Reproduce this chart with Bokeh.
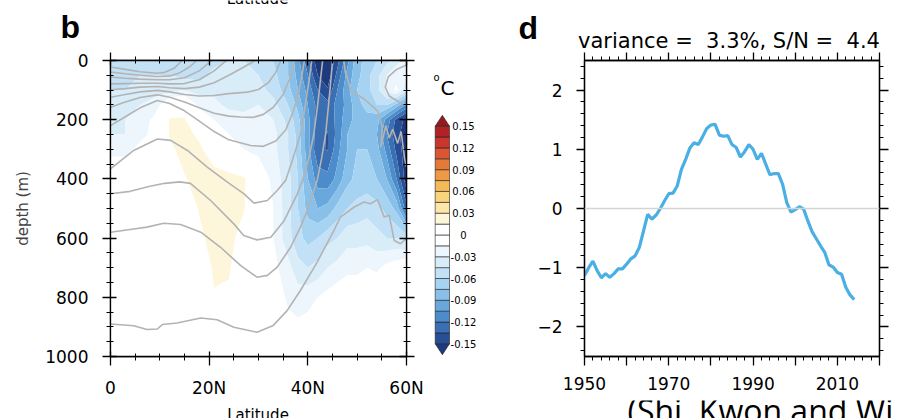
import numpy as np
from bokeh.plotting import figure
from bokeh.models import Range1d, LinearAxis, FixedTicker, Span, CustomLabelingPolicy
from bokeh.layouts import row, column
from bokeh.embed import file_html
from bokeh.resources import INLINE
from bokeh.core.properties import value

FONT = "DejaVu Sans"

# ---------------- panel b : anomaly section ----------------
lat = [0, 3, 6, 9, 12, 15, 18, 21, 24, 27, 30, 33, 36, 38, 40, 42, 44, 46, 48, 50, 52, 54, 56, 58, 60]
depth = [0, 50, 100, 150, 200, 250, 300, 400, 500, 600, 700, 800, 900, 1000]
anom = [
    [-0.05, -0.05, -0.05, -0.05, -0.055, -0.06, -0.06, -0.05, -0.045, -0.045, -0.05, -0.06, -0.075, -0.10, -0.13, -0.16, -0.17, -0.14, -0.11, -0.08, -0.07, -0.06, -0.05, -0.035, -0.025],
    [-0.05, -0.05, -0.045, -0.045, -0.045, -0.05, -0.05, -0.04, -0.04, -0.04, -0.045, -0.055, -0.075, -0.095, -0.12, -0.15, -0.16, -0.13, -0.10, -0.08, -0.065, -0.05, -0.03, -0.02, -0.03],
    [-0.045, -0.045, -0.04, -0.035, -0.035, -0.03, -0.035, -0.035, -0.04, -0.035, -0.04, -0.05, -0.07, -0.09, -0.11, -0.135, -0.148, -0.12, -0.095, -0.075, -0.065, -0.05, -0.025, -0.012, -0.04],
    [-0.04, -0.035, -0.03, -0.025, 0.005, 0.01, -0.02, -0.025, -0.035, -0.035, -0.03, -0.04, -0.06, -0.08, -0.105, -0.125, -0.13, -0.115, -0.10, -0.08, -0.07, -0.06, -0.06, -0.08, -0.11],
    [-0.035, -0.03, -0.025, -0.01, 0.016, 0.016, 0.0, -0.015, -0.02, -0.025, -0.02, -0.03, -0.05, -0.07, -0.10, -0.128, -0.132, -0.115, -0.095, -0.085, -0.08, -0.085, -0.11, -0.14, -0.155],
    [-0.03, -0.03, -0.02, -0.01, 0.016, 0.02, 0.012, -0.01, -0.015, -0.02, -0.02, -0.025, -0.045, -0.065, -0.10, -0.13, -0.136, -0.115, -0.09, -0.08, -0.08, -0.09, -0.12, -0.145, -0.16],
    [-0.02, -0.02, -0.01, 0.0, 0.012, 0.02, 0.018, 0.005, -0.01, -0.015, -0.02, -0.025, -0.045, -0.065, -0.10, -0.132, -0.136, -0.11, -0.09, -0.075, -0.075, -0.085, -0.11, -0.14, -0.16],
    [0.0, 0.0, 0.0, 0.0, 0.0, 0.014, 0.02, 0.022, 0.022, 0.017, 0.0, -0.02, -0.04, -0.06, -0.09, -0.112, -0.115, -0.10, -0.08, -0.07, -0.07, -0.075, -0.09, -0.12, -0.16],
    [0.0, 0.0, 0.0, 0.0, 0.0, 0.005, 0.016, 0.022, 0.022, 0.016, 0.0, -0.015, -0.04, -0.06, -0.08, -0.09, -0.085, -0.07, -0.06, -0.055, -0.05, -0.055, -0.065, -0.08, -0.13],
    [0.0, 0.0, 0.0, 0.0, 0.0, 0.0, 0.012, 0.02, 0.02, 0.008, -0.005, -0.015, -0.04, -0.055, -0.065, -0.06, -0.05, -0.045, -0.035, -0.035, -0.035, -0.04, -0.045, -0.045, -0.05],
    [0.0, 0.0, 0.0, 0.0, 0.0, 0.0, 0.005, 0.017, 0.017, 0.0, 0.0, -0.01, -0.025, -0.04, -0.045, -0.04, -0.03, -0.025, -0.02, -0.02, -0.015, -0.018, -0.01, -0.005, 0.0],
    [0.0, 0.0, 0.0, 0.0, 0.0, 0.0, 0.0, 0.014, 0.012, 0.0, 0.0, -0.005, -0.018, -0.022, -0.02, -0.015, -0.01, -0.005, 0.0, 0.0, 0.0, 0.0, 0.0, 0.0, 0.0],
    [0.0, 0.0, 0.0, 0.0, 0.0, 0.0, 0.0, 0.0, 0.0, 0.0, 0.0, 0.0, -0.01, -0.012, -0.01, 0.0, 0.0, 0.0, 0.0, 0.0, 0.0, 0.0, 0.0, 0.0, 0.0],
    [0.0] * 25,
]

# colour levels (shared by the field and the colour bar)
cb_levels = [-0.15, -0.135, -0.12, -0.105, -0.09, -0.075, -0.06, -0.045, -0.03, -0.015, 0.0,
             0.015, 0.03, 0.045, 0.06, 0.075, 0.09, 0.105, 0.12, 0.135, 0.15]
cb_colors = ["#274f98", "#3a6fb3", "#4c8cca", "#68a8dc", "#88c0ea", "#a6d3f2", "#c2e1f6", "#d9edf9", "#edf6fc", "#ffffff",
             "#ffffff", "#fef6da", "#fce7a8", "#f8d47c", "#f4ba58", "#ee9a44", "#e5793a", "#da5532", "#c8362c", "#b02226"]
low_color = "#1d3a7e"
high_color = "#951a1e"
cb_tick_values = [0.15, 0.12, 0.09, 0.06, 0.03, 0.0, -0.03, -0.06, -0.09, -0.12, -0.15]
cb_tick_labels = ["0.15", "0.12", "0.09", "0.06", "0.03", "0", "-0.03", "-0.06", "-0.09", "-0.12", "-0.15"]

# climatological isotherms (grey contours): latitude / depth of each line
iso_lat = [
    [0, 3, 6, 9.5, 11, 13, 14.5],
    [0, 3, 6, 9.5, 12, 14, 16, 17.5],
    [0, 3, 6, 9.5, 12, 15, 18, 20.5],
    [0, 3, 6, 9.5, 12, 15, 18, 21, 23.5],
    [0, 3, 6, 9.5, 12, 15, 18, 21, 24, 26.4, 28.3, 29.3],
    [0, 3, 6, 9.5, 12, 15, 18, 21, 24, 27.7, 30, 32, 33.5, 34.5],
    [0, 3, 6, 9.5, 12, 15, 18, 21, 24, 26.4, 29, 31, 33, 35, 36.5, 37.3],
    [0, 3, 6, 9.5, 12, 15, 18, 21, 24, 28.4, 31, 33.5, 35.5, 37, 38.2, 38.9, 39.3],
    [0, 4.7, 9.5, 12.2, 15.6, 19.6, 23.7, 27, 29.1, 31.8, 33.8, 35.5, 37, 38.5, 39.5, 40.3, 40.8],
    [0, 4, 8, 11, 14, 16.2, 20.3, 25, 27, 29.7, 32.5, 35.2, 37.9, 38.9, 40.2, 41.2, 42, 42.6, 43],
    [0, 4.7, 7.4, 10.8, 14.2, 18.3, 22.3, 26.4, 29.7, 31.8, 33.8, 36.5, 38.5, 39.9, 41.2, 41.9, 42.8, 43.6, 44.2, 44.7, 45],
    [0, 4.7, 7.4, 9.5, 10.5, 13.5, 18.3, 21.6, 25, 29.7, 33, 35.8, 38.5, 41.9, 45.3, 46.6, 49.4, 51.4, 52.7, 54.1, 55.5, 56.5, 57.5, 58.8, 60],
    [47.3, 47.6, 48.2, 48.7, 51.4, 54.1, 55.1, 54.8, 55.8, 56.5, 57.2, 58.2, 58.9, 59.3, 59.6, 60],
    [60, 58, 56.3, 55.7, 56.5, 58.5, 60],
]
iso_depth = [
    [22, 30, 38, 43, 40, 25, 0],
    [39, 45, 50, 54, 52, 42, 22, 0],
    [56, 60, 63, 65, 65, 58, 35, 0],
    [79, 78, 77, 77, 79, 78, 65, 35, 0],
    [99, 95, 90, 88, 92, 95, 90, 75, 50, 28, 10, 0],
    [124, 115, 106, 101, 106, 115, 120, 118, 112, 107, 98, 75, 40, 0],
    [158, 140, 125, 116, 124, 140, 160, 178, 188, 191, 192, 182, 158, 115, 55, 0],
    [220, 190, 160, 135, 145, 170, 205, 240, 268, 287, 290, 272, 235, 175, 105, 40, 0],
    [366, 304, 265, 270, 304, 360, 411, 450, 482, 473, 439, 405, 330, 250, 150, 60, 0],
    [450, 442, 425, 415, 410, 415, 473, 552, 591, 606, 597, 541, 450, 405, 330, 250, 150, 60, 0],
    [580, 569, 563, 550, 554, 580, 631, 693, 732, 726, 698, 631, 563, 507, 439, 405, 330, 250, 150, 60, 0],
    [890, 896, 909, 907, 892, 887, 870, 876, 901, 918, 895, 845, 777, 681, 574, 529, 495, 478, 484, 470, 529, 523, 608, 619, 600],
    [0, 40, 70, 101, 130, 169, 225, 293, 220, 262, 232, 280, 240, 290, 330, 360],
    [15, 30, 55, 90, 120, 140, 150],
]
lat_ticks = [0, 20, 40, 60]
lat_tick_labels = ["0", "20N", "40N", "60N"]
depth_ticks = [0, 200, 400, 600, 800, 1000]

# ---------------- panel d : index time series ----------------
years = list(range(1950, 2015))
index = [-1.13, -1.00, -0.89, -1.05, -1.17, -1.10, -1.16, -1.10, -1.02, -1.02,
         -0.94, -0.85, -0.80, -0.66, -0.38, -0.10, -0.18, -0.11, 0.00, 0.13,
         0.25, 0.26, 0.38, 0.66, 0.83, 1.02, 1.11, 1.08, 1.21, 1.35,
         1.41, 1.42, 1.24, 1.22, 1.23, 1.08, 1.03, 0.87, 0.96, 1.08,
         1.00, 0.83, 0.93, 0.75, 0.57, 0.59, 0.59, 0.41, 0.10, -0.06,
         -0.02, 0.03, -0.01, -0.21, -0.39, -0.51, -0.63, -0.74, -0.95, -0.99,
         -1.08, -1.11, -1.33, -1.46, -1.54]
year_ticks = [1950, 1960, 1970, 1980, 1990, 2000, 2010, 2020]
year_tick_labels = ["1950", "", "1970", "", "1990", "", "2010", ""]
index_ticks = [-2, -1, 0, 1, 2]
title_d = "variance =\u00a0 3.3%, S/N =\u00a0 4.4"

NO_LABELS = CustomLabelingPolicy(code="""
const all = [];
for (const i of indices) all.push(i);
for (const i of all) indices.unset(i);
return indices;
""")

# the rendered alphabetic baseline sits ~1/3 em below the anchor: shift anchors up
BASE_SHIFT = 0.33


def style_axis(ax, tin, tout, mtin, mtout, standoff=12, size="17px"):
    ax.major_label_text_font = FONT
    ax.major_label_text_font_size = size
    ax.major_label_text_color = "black"
    ax.axis_line_color = "black"
    ax.axis_line_width = 1.3
    ax.major_tick_line_color = "black"
    ax.major_tick_line_width = 1.3
    ax.minor_tick_line_color = "black"
    ax.minor_tick_line_width = 1.0
    ax.major_tick_in = tin
    ax.major_tick_out = tout
    ax.minor_tick_in = mtin
    ax.minor_tick_out = mtout
    ax.major_label_standoff = standoff


def blank_axis(ticker, tin, tout, mtin, mtout):
    ax = LinearAxis(ticker=ticker, major_label_policy=NO_LABELS)
    style_axis(ax, tin, tout, mtin, mtout, standoff=0, size="0px")
    return ax


def text_strip(height, y0, y1):
    s = figure(width=898, height=height, x_range=Range1d(0, 898), y_range=Range1d(y1, y0),
               x_axis_type=None, y_axis_type=None, output_backend="svg", toolbar_location=None,
               title=None, min_border=0, outline_line_color=None)
    s.grid.visible = False
    return s


def strip_text(s, x, baseline, txt, font, size, align="left", style="normal"):
    s.text(x=[x], y=[baseline - BASE_SHIFT * size], text=[txt], text_font=value(font),
           text_font_size=f"{size}px", text_font_style=style, text_align=align,
           text_baseline="alphabetic", text_color="black")


TOP_H = 52
BOT_H = 18
MID_H = 418 - TOP_H - BOT_H
# ---------- figure b ----------
pb = figure(width=425, height=MID_H, x_range=Range1d(0, 60), y_range=Range1d(1000, 0),
            output_backend="svg", toolbar_location=None, title=None,
            min_border_left=110, min_border_right=19, min_border_top=8, min_border_bottom=44)
pb.grid.visible = False
pb.outline_line_color = "black"
pb.outline_line_width = 1.3

contour_levels = [-1.0] + cb_levels + [1.0]
contour_colors = [low_color] + cb_colors + [high_color]
pb.contour(x=lat, y=depth, z=np.array(anom), levels=contour_levels,
           fill_color=contour_colors, line_color=None)
pb.multi_line(xs=iso_lat, ys=iso_depth, line_color="#b3b3b3", line_width=1.6)

lat_ticker = FixedTicker(ticks=lat_ticks, minor_ticks=list(range(0, 61, 5)))
depth_ticker = FixedTicker(ticks=depth_ticks, minor_ticks=list(range(0, 1001, 50)))
pb.xaxis.ticker = lat_ticker
pb.xaxis.major_label_overrides = dict(zip(lat_ticks, lat_tick_labels))
pb.yaxis.ticker = depth_ticker
style_axis(pb.xaxis[0], 5, 9, 3, 4, standoff=12)
style_axis(pb.yaxis[0], 6, 8, 3, 4, standoff=14)
pb.yaxis.axis_label = "depth (m)"
pb.yaxis.axis_label_text_font = FONT
pb.yaxis.axis_label_text_font_size = "15px"
pb.yaxis.axis_label_text_font_style = "normal"
pb.yaxis.axis_label_standoff = 10
pb.add_layout(blank_axis(lat_ticker, 5, 8, 3, 4), "above")
pb.add_layout(blank_axis(depth_ticker, 7, 8, 3, 4), "right")

# ---------- colour bar ----------
CB_PX = 725.7  # pixels per colour-bar unit
pc = figure(width=60, height=MID_H, x_range=Range1d(0, 60), y_range=Range1d(-0.1675, 0.2405),
            output_backend="svg", toolbar_location=None, x_axis_type=None, y_axis_type=None,
            title=None, min_border_left=0, min_border_right=0, min_border_top=8, min_border_bottom=44,
            outline_line_color=None)
pc.grid.visible = False
step = cb_levels[1] - cb_levels[0]
pc.quad(left=9.7, right=24, bottom=cb_levels[:-1], top=cb_levels[1:], fill_color=cb_colors,
        line_color="#222222", line_width=0.6)
pc.patches(xs=[[9.7, 24, 16.85], [9.7, 24, 16.85]],
           ys=[[cb_levels[-1], cb_levels[-1], cb_levels[-1] + step],
               [cb_levels[0], cb_levels[0], cb_levels[0] - step]],
           fill_color=[high_color, low_color], line_color="#222222", line_width=0.6)
pc.text(x=38, y=cb_tick_values, text=cb_tick_labels, text_font=value(FONT), text_font_size="10px",
        text_align="center", text_baseline="middle", text_color="black")
pc.text(x=[8], y=[0.212 + BASE_SHIFT * 10 / CB_PX], text=["o"], text_font=value(FONT),
        text_font_size="10px", text_baseline="alphabetic", text_color="black")
pc.text(x=[15], y=[0.1937 + BASE_SHIFT * 20 / CB_PX], text=["C"], text_font=value(FONT),
        text_font_size="20px", text_baseline="alphabetic", text_color="black")

# ---------- figure d ----------
pdd = figure(width=413, height=MID_H, x_range=Range1d(1950, 2020), y_range=Range1d(-2.5, 2.5),
             output_backend="svg", toolbar_location=None, title=None,
             min_border_left=99, min_border_right=19, min_border_top=8, min_border_bottom=44)
pdd.grid.visible = False
pdd.outline_line_color = "black"
pdd.outline_line_width = 1.3
pdd.add_layout(Span(location=0, dimension="width", line_color="#d4d4d4", line_width=1.3))
pdd.line(years, index, line_color="#4aafe4", line_width=3.2)

year_ticker = FixedTicker(ticks=year_ticks, minor_ticks=list(range(1950, 2021, 2)))
index_ticker = FixedTicker(ticks=index_ticks, minor_ticks=[round(-2.4 + 0.2 * i, 1) for i in range(25)])
pdd.xaxis.ticker = year_ticker
pdd.xaxis.major_label_overrides = dict(zip(year_ticks, year_tick_labels))
pdd.yaxis.ticker = index_ticker
style_axis(pdd.xaxis[0], 0, 9, 0, 4, standoff=11)
style_axis(pdd.yaxis[0], 0, 8, 0, 4, standoff=14)
pdd.add_layout(blank_axis(year_ticker, 0, 8, 0, 4), "above")
pdd.add_layout(blank_axis(index_ticker, 0, 9, 0, 4), "right")

# ---------- text strips (panel letters, title, cut captions) ----------
top = text_strip(TOP_H, 0, TOP_H)
strip_text(top, 257, 3.5, "Latitude", FONT, 15, align="center")
strip_text(top, 60, 37, "b", "Liberation Sans", 32, style="bold")
strip_text(top, 518, 38, "d", "Liberation Sans", 32, style="bold")
strip_text(top, 728.5, 47, title_d, FONT, 21, align="center")

bottom = text_strip(BOT_H, 418 - BOT_H, 418)
strip_text(bottom, 257.5, 419, "Latitude", FONT, 15, align="center")
strip_text(bottom, 627, 421, "(Shi, Kwon and Wi", "Open Sans", 32)

layout = column(top, row(pb, pc, pdd), bottom)
open("out.html", "w").write(file_html(layout, INLINE))
